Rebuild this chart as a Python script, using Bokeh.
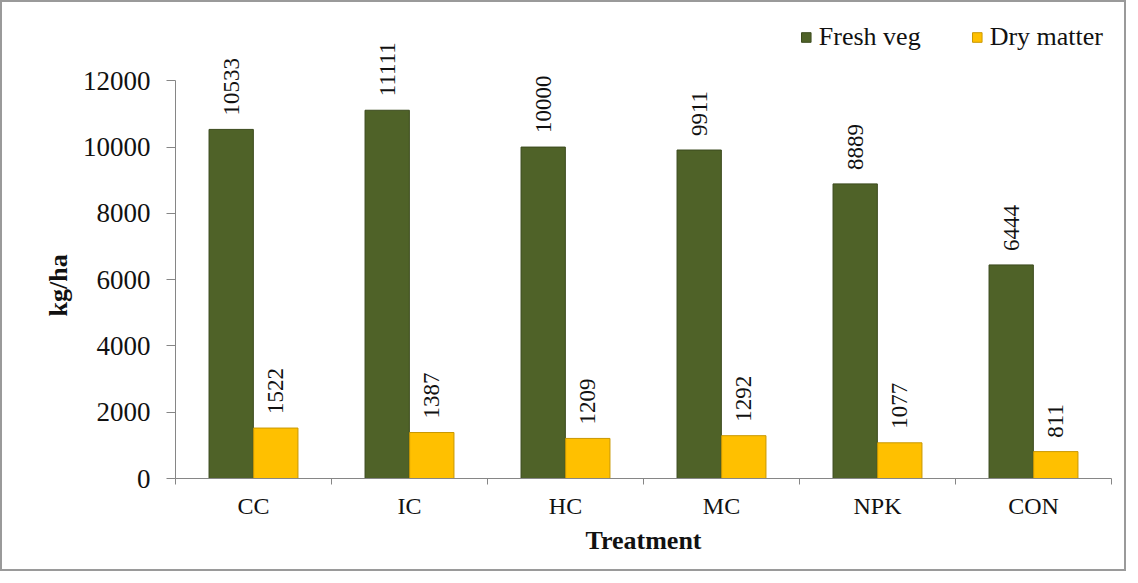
import numpy as np
from math import pi
from bokeh.plotting import figure
from bokeh.models import ColumnDataSource, FixedTicker, Range1d, Legend, Title, LabelSet
from bokeh.transform import dodge
from bokeh.core.properties import value
from bokeh.embed import file_html
from bokeh.resources import INLINE

categories = ["CC", "IC", "HC", "MC", "NPK", "CON"]
fresh_veg = [10533, 11111, 10000, 9911, 8889, 6444]
dry_matter = [1522, 1387, 1209, 1292, 1077, 811]
y_ticks = [0, 2000, 4000, 6000, 8000, 10000, 12000]

FONT = "Liberation Serif"
GREEN = "#4f6228"
GREEN_EDGE = "#3b4a1d"
YELLOW = "#ffc000"
YELLOW_EDGE = "#c99700"

centers = [i + 0.5 for i in range(len(categories))]
src = ColumnDataSource(dict(
    x=centers,
    fresh=fresh_veg,
    dry=dry_matter,
    fresh_lbl=[str(v) for v in fresh_veg],
    dry_lbl=[str(v) for v in dry_matter],
))

p = figure(width=1126, height=571, output_backend="svg", toolbar_location=None,
           x_range=Range1d(0, len(categories)), y_range=Range1d(0, 14000),
           min_border_left=173, min_border_right=17, min_border_top=12, min_border_bottom=95)
p.outline_line_color = None
p.xgrid.grid_line_color = None
p.ygrid.grid_line_color = None
p.background_fill_color = "white"
p.border_fill_color = "white"
p.styles = {"border": "2px solid #9a9a9a"}

off = 0.143
bw = 0.284
r1 = p.vbar(x=dodge("x", -off, range=p.x_range), top="fresh", width=bw, source=src,
            fill_color=GREEN, line_color=GREEN_EDGE, line_width=1)
r2 = p.vbar(x=dodge("x", off, range=p.x_range), top="dry", width=bw, source=src,
            fill_color=YELLOW, line_color=YELLOW_EDGE, line_width=1)

for xoff, ycol, tcol in [(-off, "fresh", "fresh_lbl"), (off, "dry", "dry_lbl")]:
    p.add_layout(LabelSet(x=dodge("x", xoff, range=p.x_range), y=ycol, text=tcol, source=src,
                          angle=pi / 2, text_align="left", text_baseline="middle",
                          y_offset=14, text_font=FONT, text_font_size="23px",
                          text_color="#111111"))

# axes
xa = p.xaxis[0]
xa.ticker = FixedTicker(ticks=centers, minor_ticks=list(range(len(categories) + 1)))
xa.major_label_overrides = {c: lab for c, lab in zip(centers, categories)}
xa.major_tick_line_color = None
xa.minor_tick_in = 0
xa.minor_tick_out = 6
xa.minor_tick_line_color = "#868686"
xa.axis_line_color = "#868686"
xa.major_label_text_font = FONT
xa.major_label_text_font_size = "24px"
xa.major_label_text_color = "#111111"
xa.major_label_standoff = 8
xa.axis_label = "Treatment"
xa.axis_label_text_font = FONT
xa.axis_label_text_font_size = "26px"
xa.axis_label_text_font_style = "bold"
xa.axis_label_text_color = "#111111"
xa.axis_label_standoff = 4

ya = p.yaxis[0]
ya.ticker = FixedTicker(ticks=y_ticks, minor_ticks=[])
ya.bounds = (y_ticks[0], y_ticks[-1])
ya.major_tick_in = 0
ya.major_tick_out = 9
ya.major_tick_line_color = "#868686"
ya.minor_tick_line_color = None
ya.axis_line_color = "#868686"
ya.major_label_text_font = FONT
ya.major_label_text_font_size = "27px"
ya.major_label_text_color = "#111111"
ya.major_label_standoff = 16

ytitle = Title(text="kg/ha", align="left", offset=162, standoff=14,
               text_font=FONT, text_font_size="26px", text_font_style="bold",
               text_color="#111111")
p.add_layout(ytitle, "left")

legend = Legend(items=[("Fresh veg", [r1]), ("Dry matter", [r2])],
                orientation="horizontal", location="top_right")
legend.label_text_font = FONT
legend.label_text_font_size = "26px"
legend.label_text_color = "#111111"
legend.glyph_width = 12
legend.glyph_height = 12
legend.label_standoff = 7
legend.spacing = 50
legend.border_line_color = None
legend.background_fill_alpha = 0
legend.padding = 10
legend.margin = 8
p.add_layout(legend)

open("out.html", "w").write(file_html(p, INLINE))
